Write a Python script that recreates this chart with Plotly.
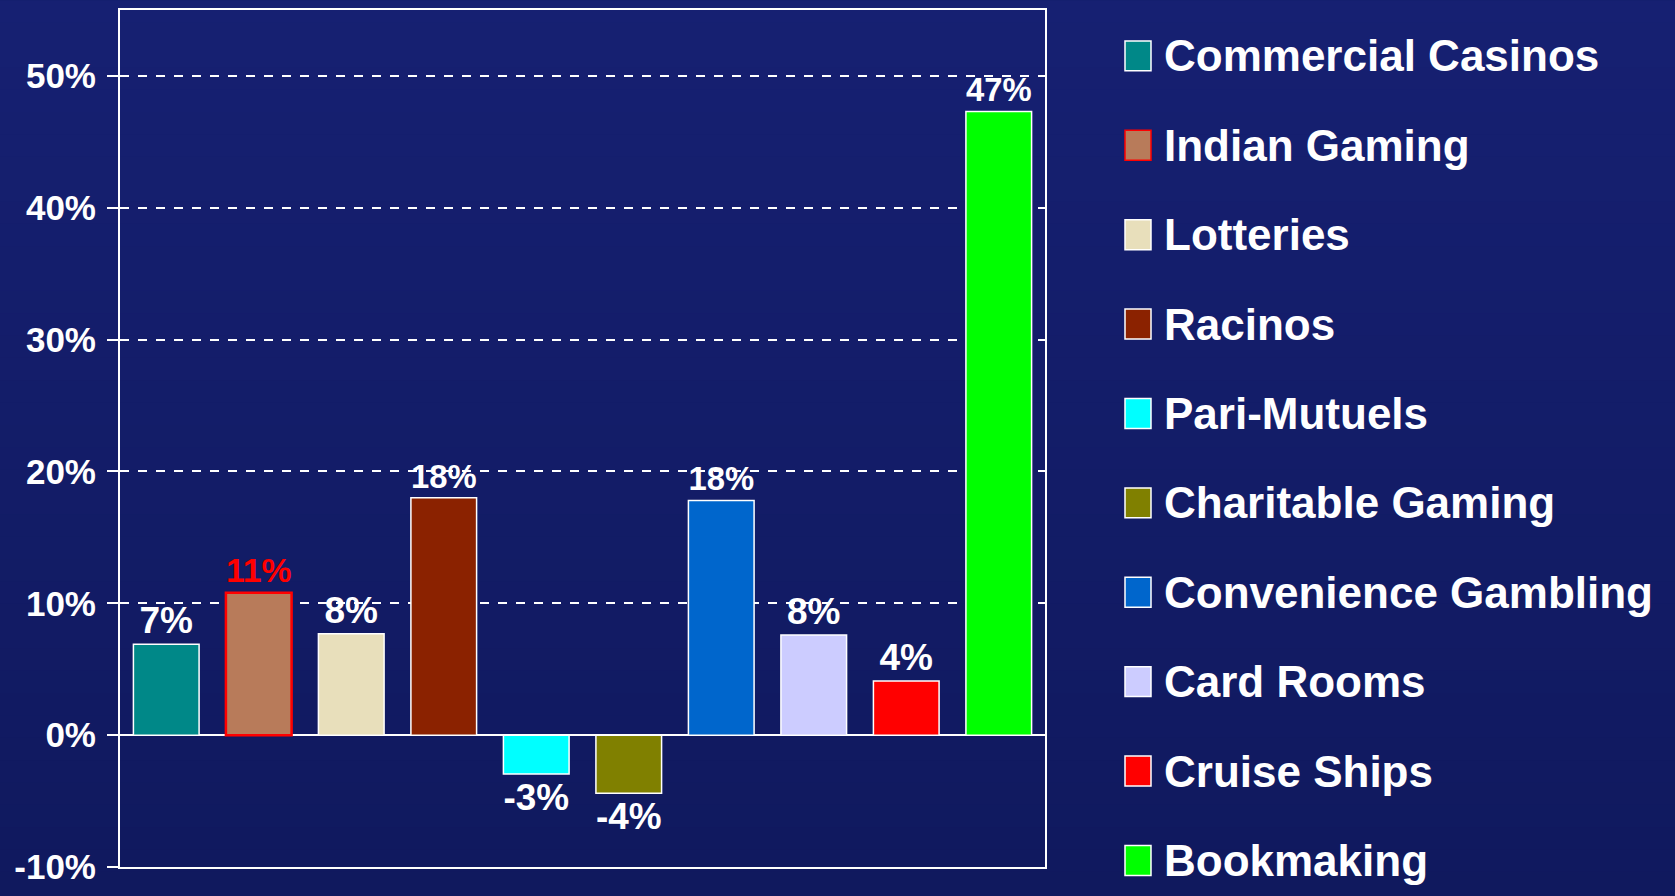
import plotly.graph_objects as go

categories = ["Commercial Casinos", "Indian Gaming", "Lotteries", "Racinos", "Pari-Mutuels",
              "Charitable Gaming", "Convenience Gambling", "Card Rooms", "Cruise Ships", "Bookmaking"]
values = [6.9, 10.8, 7.7, 18.0, -2.95, -4.4, 17.8, 7.6, 4.1, 47.3]
labels = ["7%", "11%", "8%", "18%", "-3%", "-4%", "18%", "8%", "4%", "47%"]
colors = ["#008888", "#B87B5A", "#E8DFBB", "#8B2200", "#00FFFF",
          "#808000", "#0066CC", "#CCCCFF", "#FF0000", "#00FF00"]
outline = ["white", "#FF0000", "white", "white", "white", "white", "white", "white", "white", "white"]
label_colors = ["white", "#FF0000", "white", "white", "white", "white", "white", "white", "white", "white"]
y_ticks = [-10, 0, 10, 20, 30, 40, 50]
y_ticktext = ["-10%", "0%", "10%", "20%", "30%", "40%", "50%"]

W, H = 1675, 896
ML, MR, MT, MB = 120, 630, 8, 29
FONT = "Liberation Sans, Arial, sans-serif"

fig = go.Figure()
fig.add_trace(go.Bar(
    x=categories, y=values, text=labels, textposition="outside",
    marker=dict(color=colors, line=dict(color=outline, width=[1.5, 2.5] + [1.5] * 8)),
    textfont=dict(family=FONT, size=37, color=label_colors, weight="bold"),
    cliponaxis=False, showlegend=False, hoverinfo="x+y",
))

pw, ph = W - ML - MR, H - MT - MB

# background gradient
shapes = []
n = 40
top = (22, 32, 114)
bot = (16, 25, 94)
for i in range(n):
    t = i / (n - 1)
    c = tuple(round(top[k] + (bot[k] - top[k]) * t) for k in range(3))
    py0 = i * H / n
    py1 = (i + 1) * H / n
    shapes.append(dict(type="rect", xref="paper", yref="paper", layer="below",
                       x0=-ML / pw - 0.01, x1=(W - ML) / pw + 0.01,
                       y0=(H - MB - py1) / ph - 0.002, y1=(H - MB - py0) / ph + 0.002,
                       fillcolor="rgb(%d,%d,%d)" % c, line=dict(width=0)))

# manual legend (large swatches)
annotations = []
for i, (cat, col, oc) in enumerate(zip(categories, colors, outline)):
    cy = 54 + i * 89.6
    yp = (H - MB - cy) / ph
    shapes.append(dict(type="rect", xref="paper", yref="paper",
                       x0=(1125 - ML) / pw, x1=(1151 - ML) / pw,
                       y0=yp - 15 / ph, y1=yp + 15 / ph,
                       fillcolor=col, line=dict(color=oc, width=1.5)))
    annotations.append(dict(xref="paper", yref="paper", x=(1162 - ML) / pw, y=yp,
                            xanchor="left", yanchor="middle", showarrow=False, text=cat,
                            font=dict(family=FONT, size=44, color="white", weight="bold")))

fig.update_layout(
    width=W, height=H,
    margin=dict(l=ML, r=MR, t=MT, b=MB, pad=0),
    paper_bgcolor="rgb(19,28,104)", plot_bgcolor="rgba(0,0,0,0)",
    bargap=0.29,
    shapes=shapes, annotations=annotations,
    xaxis=dict(showticklabels=False, showgrid=False, ticks="", showline=True,
               linecolor="white", linewidth=2, mirror=True, fixedrange=True),
    yaxis=dict(range=[-10, 55], tickvals=y_ticks, ticktext=y_ticktext,
               tickfont=dict(family=FONT, size=35, color="white", weight="bold"),
               ticks="outside", ticklen=11, tickcolor="white", tickwidth=2,
               ticklabelstandoff=4,
               showgrid=True, gridcolor="white", gridwidth=2, griddash="dash",
               zeroline=True, zerolinecolor="white", zerolinewidth=2,
               showline=True, linecolor="white", linewidth=2, mirror=True),
)

fig.write_html("out.html", config={"displayModeBar": False},
               post_script="document.body.style.margin='0';document.body.style.padding='0';"
                           "document.body.style.background='rgb(19,28,104)';")
